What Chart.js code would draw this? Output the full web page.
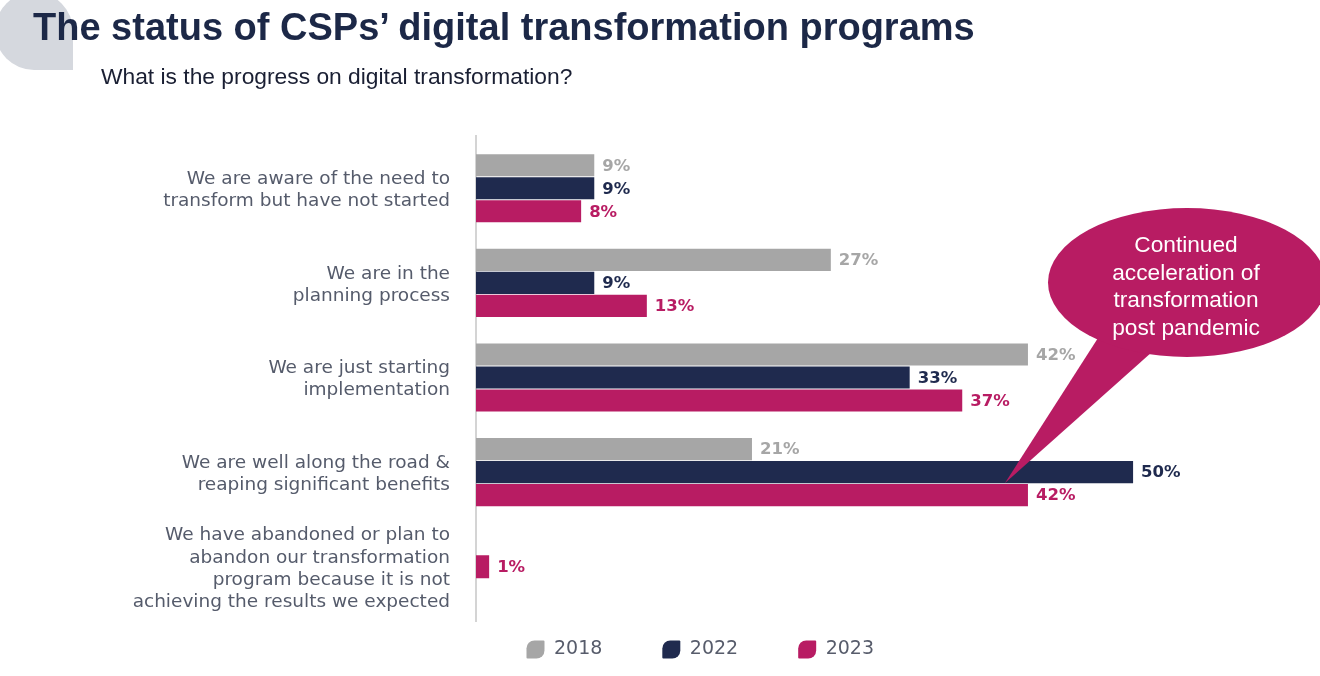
<!DOCTYPE html>
<html>
<head>
<meta charset="utf-8">
<title>The status of CSPs' digital transformation programs</title>
<script src="https://cdn.jsdelivr.net/npm/chart.js@4.4.1/dist/chart.umd.min.js"></script>
<style>
    html, body { margin: 0; padding: 0; background: #fff; }
    #wrap { position: relative; width: 1320px; height: 676px; overflow: hidden; }
    #blob { position: absolute; left: -5px; top: -8px; width: 78px; height: 78px;
            background: #d5d8de; border-radius: 50% 50% 0 50%; }
    #status-chart { position: absolute; left: 0; top: 0; }
    #overlay { position: absolute; left: 0; top: 0; pointer-events: none; }
</style>
</head>
<body>
<div id="wrap">
    <div id="blob"></div>
    <canvas id="status-chart" width="1320" height="676"></canvas>
    <svg id="overlay" width="1320" height="676">
        <text x="33" y="40" font-family="Liberation Sans, Arial, sans-serif" font-weight="bold" font-size="38" fill="#1c2847">The status of CSPs’ digital transformation programs</text>
        <text x="101" y="84" font-family="Liberation Sans, Arial, sans-serif" font-size="22.8" fill="#1a1f33">What is the progress on digital transformation?</text>
        <g fill="#b81c63">
            <polygon points="1098,338 1152,352 1005,483"></polygon>
            <ellipse cx="1187" cy="282.5" rx="139" ry="74.5"></ellipse>
        </g>
        <g font-family="Liberation Sans, Arial, sans-serif" font-size="22.7" fill="#ffffff" text-anchor="middle">
            <text x="1186" y="252">Continued</text>
            <text x="1186" y="279.5">acceleration of</text>
            <text x="1186" y="307">transformation</text>
            <text x="1186" y="334.5">post pandemic</text>
        </g>
    </svg>
</div>
<script>
// chart data
var categories = [
    ['We are aware of the need to', 'transform but have not started'],
    ['We are in the', 'planning process'],
    ['We are just starting', 'implementation'],
    ['We are well along the road &', 'reaping significant benefits'],
    ['We have abandoned or plan to', 'abandon our transformation', 'program because it is not', 'achieving the results we expected']
];
var years = ['2018', '2022', '2023'];
var values2018 = [9, 27, 42, 21, null];
var values2022 = [9, 9, 33, 50, null];
var values2023 = [8, 13, 37, 42, 1];

var barColors = ['#a6a6a6', '#1f2a4e', '#b81c63'];

// value labels at the end of each bar
var valueLabels = {
    id: 'valueLabels',
    afterDatasetsDraw: function (chart) {
        var ctx = chart.ctx;
        ctx.save();
        ctx.font = 'bold 16.5px "DejaVu Sans"';
        ctx.textBaseline = 'middle';
        ctx.textAlign = 'left';
        chart.data.datasets.forEach(function (ds, i) {
            var meta = chart.getDatasetMeta(i);
            ctx.fillStyle = ds.backgroundColor;
            meta.data.forEach(function (bar, j) {
                var v = ds.data[j];
                if (v === null || v === undefined) return;
                ctx.fillText(v + '%', bar.x + 8, bar.y + 1);
            });
        });
        ctx.restore();
    }
};

// the vertical axis line runs a bit past the bars
var axisLine = {
    id: 'axisLine',
    beforeDatasetsDraw: function (chart) {
        var ctx = chart.ctx, area = chart.chartArea;
        ctx.save();
        ctx.strokeStyle = '#c6c6c6';
        ctx.lineWidth = 1.5;
        ctx.beginPath();
        ctx.moveTo(area.left, area.top - 6);
        ctx.lineTo(area.left, area.bottom + 8);
        ctx.stroke();
        ctx.restore();
    }
};

// legend items need a wide gap, so move the legend back under the plot
var legendLift = {
    id: 'legendLift',
    afterLayout: function (chart) {
        var lg = chart.legend;
        lg.top -= 34;
        lg.left += 18;
        lg.right += 18;
    }
};

var canvas = document.getElementById('status-chart');
var myChart = new Chart(canvas, {
    type: 'bar',
    data: {
        labels: categories,
        datasets: [{
            label: years[0],
            data: values2018,
            backgroundColor: barColors[0]
        }, {
            label: years[1],
            data: values2022,
            backgroundColor: barColors[1]
        }, {
            label: years[2],
            data: values2023,
            backgroundColor: barColors[2]
        }]
    },
    options: {
        responsive: false,
        animation: false,
        indexAxis: 'y',
        datasets: {
            bar: {
                skipNull: true,
                barPercentage: 0.96,
                categoryPercentage: 0.73,
                maxBarThickness: 23,
                borderWidth: 0
            }
        },
        layout: {
            padding: { top: 141, bottom: 0, left: 100, right: 55.5 }
        },
        scales: {
            x: {
                display: false,
                min: 0,
                max: 60
            },
            y: {
                grid: { display: false, drawTicks: false },
                border: { display: false },
                ticks: {
                    padding: 26,
                    labelOffset: 2,
                    color: '#555b6b',
                    font: { family: 'DejaVu Sans', size: 18.5, lineHeight: 1.19 }
                },
                afterFit: function (scale) {
                    scale.width = 376;
                }
            }
        },
        plugins: {
            legend: {
                position: 'bottom',
                maxHeight: 62,
                labels: {
                    boxWidth: 18,
                    boxHeight: 18,
                    padding: 60,
                    color: '#575c6b',
                    font: { family: 'DejaVu Sans', size: 19 },
                    useBorderRadius: true,
                    borderRadius: { topLeft: 8, topRight: 1, bottomRight: 8, bottomLeft: 1 }
                }
            },
            tooltip: { enabled: false }
        }
    },
    plugins: [axisLine, valueLabels, legendLift]
});
</script>
</body>
</html>
